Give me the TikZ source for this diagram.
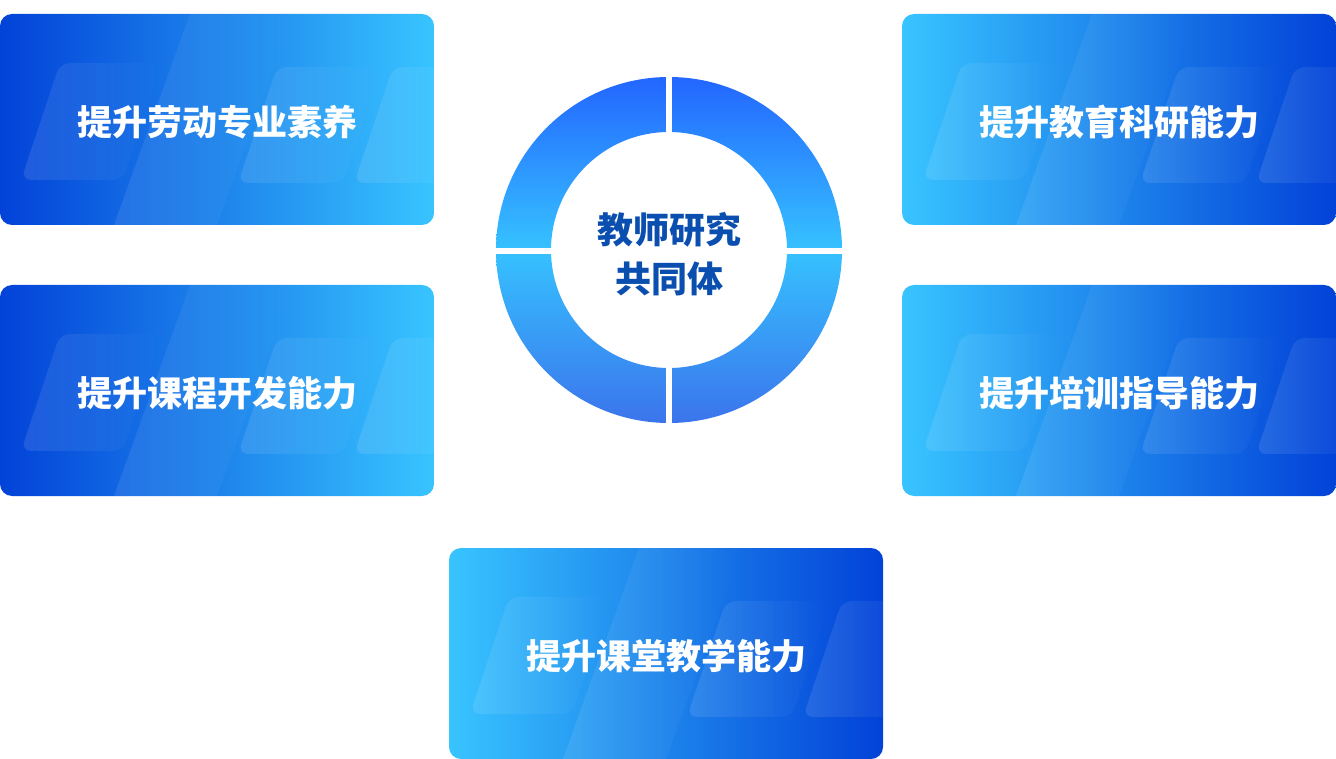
\documentclass[tikz,border=0pt]{standalone}
\usepackage{fontspec}
\newfontfamily\cjk{Noto Sans CJK SC}
\usetikzlibrary{fadings}
\definecolor{cdark}{RGB}{2,66,216}
\definecolor{clight}{RGB}{56,196,255}
\definecolor{ringtop}{RGB}{35,102,255}
\definecolor{ringmid}{RGB}{54,194,255}
\definecolor{ringbot}{RGB}{59,116,236}
\definecolor{ctext}{RGB}{10,79,175}
\tikzset{
  cardtext/.style={text=white, font=\cjk\bfseries\fontsize{35}{40}\selectfont, inner sep=0pt},
  deco/.style={fill=white, fill opacity=0.11, path fading=east, rounded corners=10pt},
  band/.style={fill=white, fill opacity=0.09, path fading=east},
  centertext/.style={text=ctext, align=center, font=\cjk\bfseries\fontsize{36}{49}\selectfont, inner sep=0pt}
}
% #1 name, #2 x, #3 y, #4 left colour, #5 right colour, #6 text
\newcommand\mycard[6]{%
  \begin{scope}[shift={(#2,#3)}]
    \shade[left color=#4, right color=#5, rounded corners=12pt] (0,0) rectangle (434,211);
    \begin{scope}
      \clip[rounded corners=12pt] (0,0) rectangle (434,211);
      \fill[band] (190,0) -- (293,0) -- (217,211) -- (114,211) -- cycle;
      \fill[deco] (60,49) -- (162,49) -- (123,166) -- (21,166) -- cycle;
      \fill[deco] (277,53) -- (382,53) -- (343,169) -- (238,169) -- cycle;
      \fill[deco] (393,53) -- (500,53) -- (461,169) -- (354,169) -- cycle;
    \end{scope}
    \node[cardtext] (#1) at (217.5,108) {#6};
  \end{scope}}
\begin{document}
\begin{tikzpicture}[x=1pt,y=-1pt]
\useasboundingbox (0,0) rectangle (1336,759);
\mycard{c1}{0}{14}{cdark}{clight}{提升劳动专业素养}
\mycard{c2}{0}{285}{cdark}{clight}{提升课程开发能力}
\mycard{c3}{902}{14}{clight}{cdark}{提升教育科研能力}
\mycard{c4}{902}{285}{clight}{cdark}{提升培训指导能力}
\mycard{c5}{449}{548}{clight}{cdark}{提升课堂教学能力}
% ring
\shade[top color=ringtop, bottom color=ringbot, middle color=ringmid, even odd rule]
  (669,250) circle[radius=173pt] (669,250) circle[radius=118pt];
\fill[white] (666,70) rectangle (672,430);
\fill[white] (490,247.7) rectangle (850,253.8);
\node[centertext] (ctr) at (669,254) {教师研究\\共同体};
\end{tikzpicture}
\end{document}
